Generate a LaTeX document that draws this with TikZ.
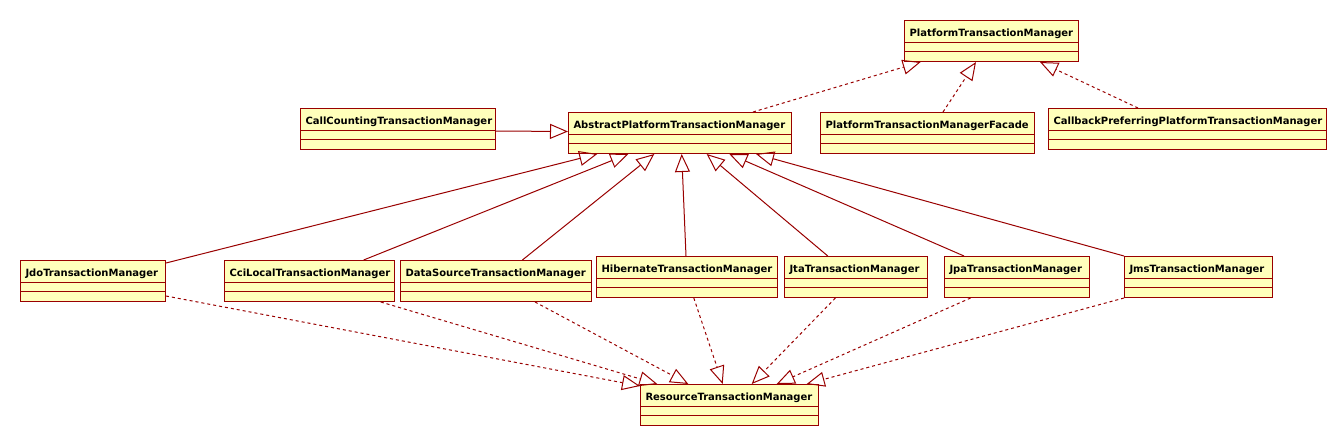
\documentclass[tikz,border=0pt]{standalone}
\usepackage{fontspec}
\setmainfont{DejaVu Sans}
\usetikzlibrary{arrows.meta,calc}
\definecolor{umlred}{HTML}{990000}
\definecolor{umlyellow}{HTML}{FFFFBB}
\tikzset{
  cls/.style={draw=umlred, fill=umlyellow, line width=1pt, rectangle, inner xsep=5pt, inner ysep=0pt,
    text height=15.5pt, text depth=25.5pt, align=left, anchor=north west,
    font=\fontsize{10}{12}\selectfont\bfseries, text=black},
  divline/.style={draw=umlred, line width=1pt},
  gen/.style={draw=umlred, line width=1pt, -{Triangle[open,length=18pt,width=15pt]}},
  real/.style={gen, dash pattern=on 3pt off 3pt}
}
\newcommand\umlcls[5]{%
  \node[cls, text width=#4] (#1) at (#2,-#3) {#5};
  \draw[divline] ($(#1.north west)+(0,-22)$) -- ($(#1.north east)+(0,-22)$)
                 ($(#1.north west)+(0,-31)$) -- ($(#1.north east)+(0,-31)$);
}
\begin{document}
\begin{tikzpicture}[x=1pt,y=1pt]
\fill[white] (0,0) rectangle (1331,-437);
\useasboundingbox (0,0) rectangle (1331,-437);
% classes: name, x, y, text width (= box width - 10), text
\umlcls{ptm}{904}{20}{164pt}{PlatformTransactionManager}
\umlcls{abs}{568}{112}{213pt}{AbstractPlatformTransactionManager}
\umlcls{cc}{300}{108}{185pt}{CallCountingTransactionManager}
\umlcls{fac}{820}{112}{204pt}{PlatformTransactionManagerFacade}
\umlcls{cb}{1048}{108}{268pt}{CallbackPreferringPlatformTransactionManager}
\umlcls{jdo}{20}{260}{135pt}{JdoTransactionManager}
\umlcls{cci}{224}{260}{160pt}{CciLocalTransactionManager}
\umlcls{ds}{400}{260}{181pt}{DataSourceTransactionManager}
\umlcls{hib}{596}{256}{171pt}{HibernateTransactionManager}
\umlcls{jta}{784}{256}{133pt}{JtaTransactionManager}
\umlcls{jpa}{944}{256}{135pt}{JpaTransactionManager}
\umlcls{jms}{1124}{256}{138pt}{JmsTransactionManager}
\umlcls{res}{640}{384}{168pt}{ResourceTransactionManager}
% realizations of PlatformTransactionManager
\draw[real] ($(abs.north west)+(185,0)$) -- ($(ptm.south west)+(16.7,0)$);
\draw[real] ($(fac.north west)+(123,0)$) -- ($(ptm.south west)+(72,0)$);
\draw[real] ($(cb.north west)+(90,0)$) -- ($(ptm.south east)+(-39,0)$);
% generalizations to AbstractPlatformTransactionManager
\draw[gen] ($(cc.east)+(0,-2)$) -- ($(abs.west)+(0,1.5)$);
\draw[gen] ($(jdo.north east)+(0,-3)$) -- ($(abs.south west)+(29.3,0)$);
\draw[gen] ($(cci.north west)+(139.6,0)$) -- ($(abs.south west)+(60.3,0)$);
\draw[gen] ($(ds.north west)+(122.4,0)$) -- ($(abs.south west)+(86.3,0)$);
\draw[gen] ($(hib.north west)+(90,0)$) -- ($(abs.south west)+(113.7,0)$);
\draw[gen] ($(jta.north west)+(43.8,0)$) -- ($(abs.south west)+(138.7,0)$);
\draw[gen] ($(jpa.north west)+(20,0)$) -- ($(abs.south west)+(161.3,0)$);
\draw[gen] (jms.north west) -- ($(abs.south west)+(188,0)$);
% realizations of ResourceTransactionManager
\draw[real] ($(jdo.south east)+(0,6)$) -- ($(res.north west)+(0,-2)$);
\draw[real] ($(cci.south west)+(156.8,0)$) -- ($(res.north west)+(17.3,0)$);
\draw[real] ($(ds.south west)+(135,0)$) -- ($(res.north west)+(48.3,0)$);
\draw[real] ($(hib.south west)+(97.8,0)$) -- ($(res.north west)+(82.7,0)$);
\draw[real] ($(jta.south west)+(51.4,0)$) -- ($(res.north west)+(111.7,0)$);
\draw[real] ($(jpa.south west)+(26.6,0)$) -- ($(res.north west)+(136.7,0)$);
\draw[real] (jms.south west) -- ($(res.north west)+(166.7,0)$);
\end{tikzpicture}
\end{document}
